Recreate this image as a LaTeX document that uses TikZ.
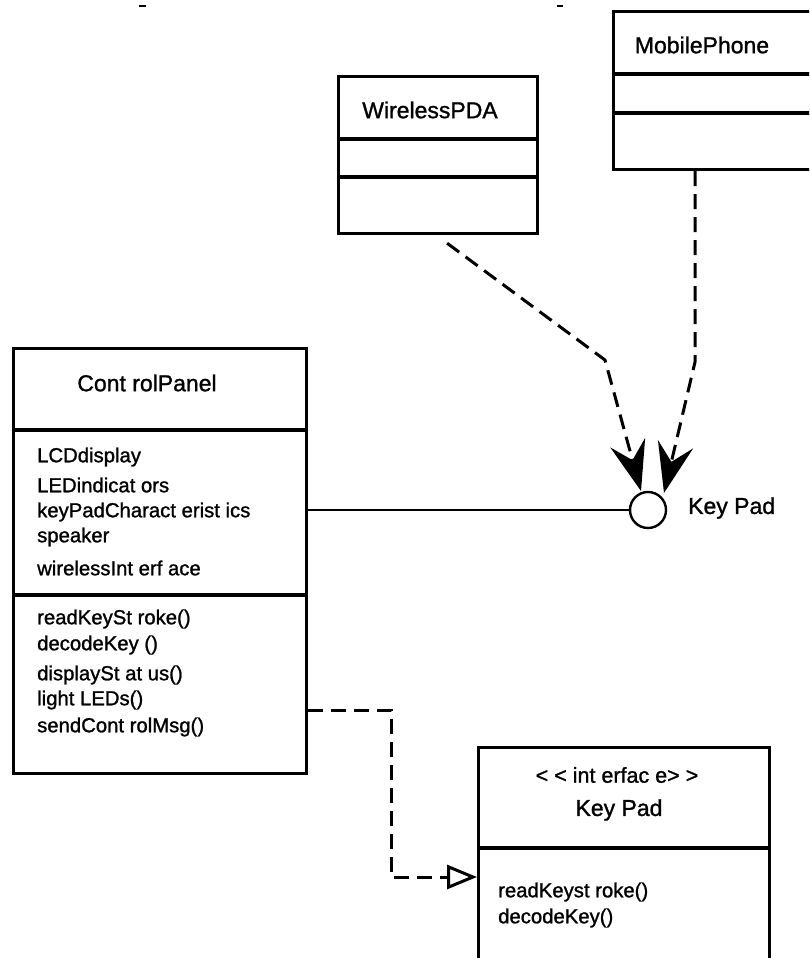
\documentclass[tikz,border=0pt]{standalone}
\usepackage{fontspec}
\setmainfont[FakeBold=1.2]{Liberation Sans}
\usetikzlibrary{arrows.meta,calc}
\begin{document}
\begin{tikzpicture}[x=1pt,y=-1pt,
  box/.style={draw, line width=3.2pt, inner sep=0pt, anchor=north west},
  divider/.style={line width=3.2pt},
  title/.style={font=\fontsize{23}{26}\selectfont, inner sep=0pt},
  member/.style={font=\fontsize{20.3}{24}\selectfont, inner sep=0pt, anchor=west},
  dep/.style={line width=3pt, dash pattern=on 15pt off 8pt, -{Stealth[length=50pt,width=36pt,inset=18pt]}},
  real/.style={line width=3pt, dash pattern=on 15pt off 8pt, -{Triangle[open,length=30pt,width=24pt]}},
  solidline/.style={line width=2.8pt}]
\useasboundingbox (0,0) rectangle (809,958);
\clip (0,0) rectangle (809,958);
% small marks at top
\draw[line width=2.4pt] (139,6) -- (146,6);
\draw[line width=2.4pt] (557,6) -- (563,6);
% WirelessPDA
\node[box, minimum width=199pt, minimum height=157pt] (wpda) at (337,75) {};
\draw[divider] ([yshift=-64pt]wpda.north west) -- ([yshift=-64pt]wpda.north east);
\draw[divider] ([yshift=-102pt]wpda.north west) -- ([yshift=-102pt]wpda.north east);
\node[title] (wpdat) at (430,110) {WirelessPDA};
% MobilePhone
\node[box, minimum width=203pt, minimum height=158pt] (mp) at (612,10) {};
\draw[divider] ([yshift=-64pt]mp.north west) -- ([yshift=-64pt]mp.north east);
\draw[divider] ([yshift=-103pt]mp.north west) -- ([yshift=-103pt]mp.north east);
\node[title] (mpt) at (702,45) {MobilePhone};
% ControlPanel
\node[box, minimum width=293pt, minimum height=425pt] (cp) at (12,347) {};
\draw[divider] ([yshift=-83pt]cp.north west) -- ([yshift=-83pt]cp.north east);
\draw[divider] ([yshift=-248pt]cp.north west) -- ([yshift=-248pt]cp.north east);
\node[title] (cpt) at (147,383) {Cont rolPanel};
\node[member] (a1) at (37,457) {LCDdisplay};
\node[member] (a2) at (37,485) {LEDindicat ors};
\node[member] (a3) at (37,512) {keyPadCharact erist ics};
\node[member] (a4) at (37,537) {speaker};
\node[member] (a5) at (37,568) {wirelessInt erf ace};
\node[member] (m1t) at (37,619) {readKeySt roke()};
\node[member] (m2t) at (37,645) {decodeKey ()};
\node[member] (m3t) at (37,675) {displaySt at us()};
\node[member] (m4t) at (37,700) {light LEDs()};
\node[member] (m5t) at (37,727) {sendCont rolMsg()};
% KeyPad interface
\node[box, minimum width=291pt, minimum height=230pt] (kpi) at (477,746) {};
\draw[divider] ([yshift=-102pt]kpi.north west) -- ([yshift=-102pt]kpi.north east);
\node[title, font=\fontsize{21.5}{24}\selectfont] (kpis) at (617,775) {< < int erfac e> >};
\node[title] (kpit) at (619,810) {Key Pad};
\node[member] (k1) at (498,892) {readKeyst roke()};
\node[member] (k2) at (498,918) {decodeKey()};
% Lollipop
\node[draw, circle, line width=2.4pt, minimum size=36pt, inner sep=0pt, fill=white] (kp) at (648,510) {};
\node[title, anchor=west] (kpl) at (688,508) {Key Pad};
\draw[solidline] (cp.east |- kp.west) -- (kp.west);
% dependencies
\coordinate (w1) at (605,360);
\coordinate (tipL) at (641,491);
\draw[dep] ($(wpda.south)+(9,8)$) -- (w1) -- (tipL);
\coordinate (mb) at (695,362);
\coordinate (tipR) at (664,493);
\draw[dep] (mp.south -| mb) -- (mb) -- (tipR);
% realization
\coordinate (r1) at (391,710);
\coordinate (r2) at (391,877);
\draw[real] (cp.east |- r1) -- (r1) -- (r2) -- (kpi.west |- r2);
\end{tikzpicture}
\end{document}
